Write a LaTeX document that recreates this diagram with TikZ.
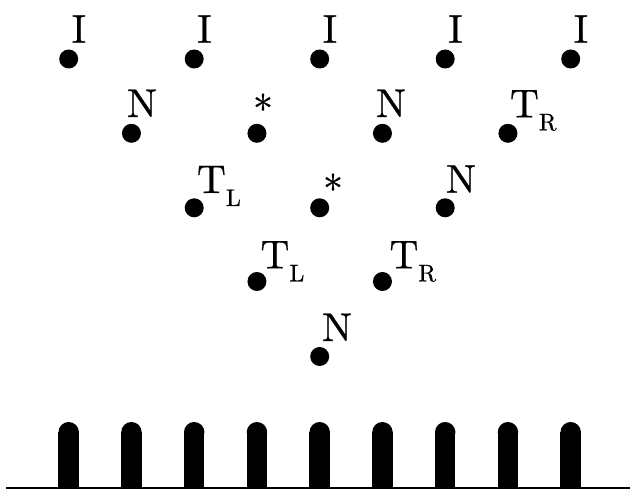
\documentclass[tikz,border=0pt]{standalone}
\usepackage{fontspec}
\newfontfamily\lblfont{lmroman10-regular.otf}[FakeBold=0.6]
\newcommand\lowsub[1]{\raisebox{-13pt}{\fontsize{24}{24}\selectfont #1}}
\tikzset{
  x=1pt, y=-1pt,
  dotnode/.style={circle, fill=black, draw=none, inner sep=0pt, minimum size=19pt},
  lbl/.style={anchor=base west, inner sep=0pt, outer sep=0pt, font=\lblfont\fontsize{40}{40}\selectfont},
  barfill/.style={fill=black},
}
\begin{document}
\begin{tikzpicture}
\useasboundingbox (0,0) rectangle (630,489);
% base line
\coordinate (bl) at (6,487.5);
\coordinate (br) at (630,487.5);
\draw[line width=2pt] (bl) -- (br);
% bars
\foreach \k in {0,...,8}{
  \pgfmathsetmacro\bx{68.7+62.75*\k}
  \fill[barfill] (\bx-10.25,488) rectangle (\bx+10.25,432.25);
  \fill[barfill] (\bx,432.25) circle (10.25);
}
% dots
\foreach \k/\n in {0/a0,2/a2,4/a4,6/a6,8/a8}{
  \node[dotnode] (\n) at ({68.7+62.75*\k},59) {};
}
\foreach \k/\n in {1/b1,3/b3,5/b5,7/b7}{
  \node[dotnode] (\n) at ({68.7+62.75*\k},133.3) {};
}
\foreach \k/\n in {2/c2,4/c4,6/c6}{
  \node[dotnode] (\n) at ({68.7+62.75*\k},207.8) {};
}
\foreach \k/\n in {3/d3,5/d5}{
  \node[dotnode] (\n) at ({68.7+62.75*\k},281.5) {};
}
\node[dotnode] (e4) at (319.7,356.5) {};
% row 1 labels
\foreach \k/\n in {0/la0,2/la2,4/la4,6/la6,8/la8}{
  \node[lbl] (\n) at ({71.7+62.75*\k},42.7) {I};
}
% row 2 labels
\node[lbl] (lb1) at (127,117) {N};
\node[lbl] (lb3) at (253,123.5) {*};
\node[lbl] (lb5) at (376,117) {N};
\node[lbl] (lb7) at (510,117.3) {T\lowsub{R}};
% row 3 labels
\node[lbl] (lc2) at (197,193) {T\lowsub{L}};
\node[lbl] (lc4) at (323,203.5) {*};
\node[lbl] (lc6) at (446,192.7) {N};
% row 4 labels
\node[lbl] (ld3) at (260.5,268.3) {T\lowsub{L}};
\node[lbl] (ld5) at (389.5,268.3) {T\lowsub{R}};
% row 5 label
\node[lbl] (le4) at (322,341) {N};
\end{tikzpicture}
\end{document}
